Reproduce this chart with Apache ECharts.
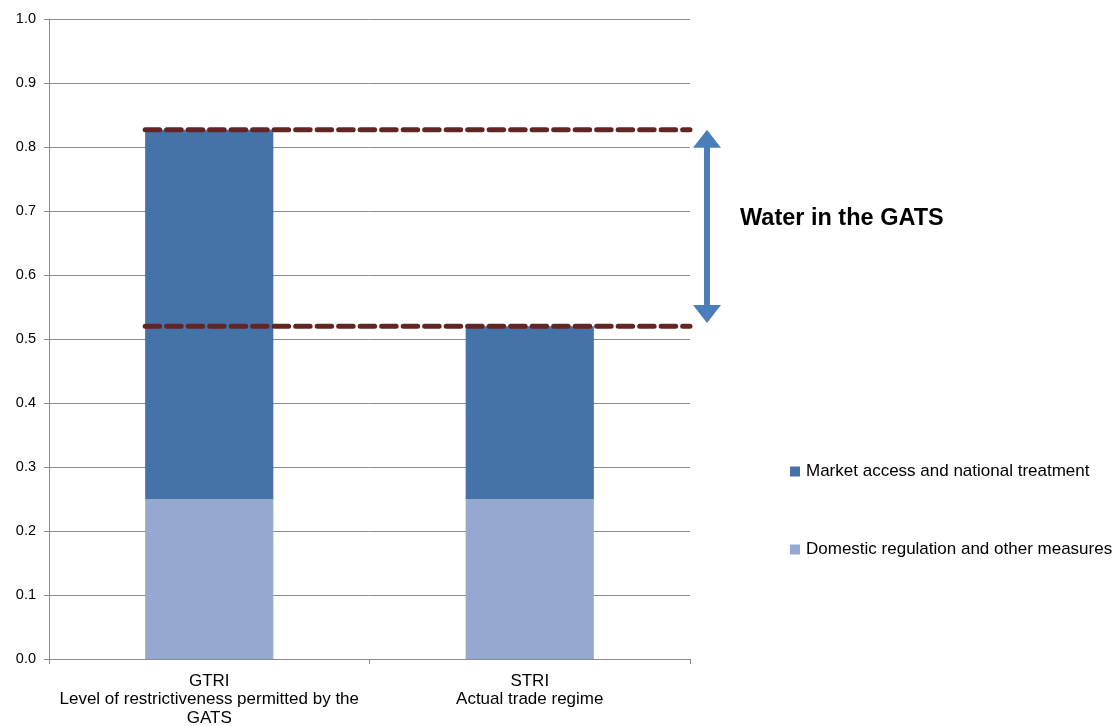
<!DOCTYPE html>
<html>
<head>
<meta charset="utf-8">
<script src="https://cdn.jsdelivr.net/npm/echarts@6/dist/echarts.min.js"></script>
<style>
  html, body { margin: 0; padding: 0; background: #fff; }
  #chart { width: 1114px; height: 726px; }
</style>
</head>
<body>
<div id="chart"></div>
<script>
// Restrictiveness indices: bound (GATS) vs. applied regime
const categories = [
  'GTRI\nLevel of restrictiveness permitted by the\nGATS',
  'STRI\nActual trade regime'
];
const seriesNames = ['Domestic regulation and other measures', 'Market access and national treatment'];
const domesticRegulation = [0.25, 0.25];
const marketAccess = [0.577, 0.27];
const yTicks = [0, 0.1, 0.2, 0.3, 0.4, 0.5, 0.6, 0.7, 0.8, 0.9, 1.0];
const annotationText = 'Water in the GATS';

// Stack totals give the heights of the two reference lines
const totals = domesticRegulation.map((d, i) => d + marketAccess[i]);
const gatsLevel = totals[0];
const appliedLevel = totals[1];

const FONT = 'Liberation Sans, Arial, sans-serif';
const W = 1114, H = 726;
const plotLeft = 49, plotRight = 690, plotTop = 19, plotBottom = 659;
const overlayRight = 740;   // wider overlay grid so the arrow can sit right of the plot

const chart = echarts.init(document.getElementById('chart'));

// Overlay x scale: one unit per category, same pixel scale as the bar grid
const unitPx = (plotRight - plotLeft) / categories.length;
const overlayMax = (overlayRight - plotLeft) / unitPx;
const barShare = 0.4;
const lineStart = 0.5 - barShare / 2;
const lineEnd = categories.length;
const arrowX = lineEnd + 17 / unitPx;
const headHalf = 9 / (plotBottom - plotTop); // half arrow-head height in value units

const dashStyle = { color: '#632523', width: 5, type: [14.5, 7], cap: 'round' };

const gridBox = { top: plotTop, bottom: H - plotBottom, containLabel: false, outerBoundsMode: 'none' };

chart.setOption({
  animation: false,
  grid: [
    Object.assign({ left: plotLeft, right: W - plotRight }, gridBox),
    Object.assign({ left: plotLeft, right: W - overlayRight }, gridBox)
  ],
  legend: {
    orient: 'vertical',
    left: 790,
    top: 463,
    padding: 0,
    itemGap: 61,
    itemWidth: 10,
    itemHeight: 10,
    icon: 'rect',
    data: [seriesNames[1], seriesNames[0]],
    textStyle: { fontFamily: FONT, fontSize: 17, color: '#000', padding: [0, 0, 0, 1] }
  },
  xAxis: [
    {
      type: 'category',
      gridIndex: 0,
      data: categories,
      axisLine: { lineStyle: { color: '#8c8c8c', width: 1 } },
      axisTick: { show: true, length: 5, lineStyle: { color: '#8c8c8c' } },
      axisLabel: { interval: 0, fontFamily: FONT, fontSize: 17, color: '#000', lineHeight: 18.5, margin: 13 }
    },
    { type: 'value', gridIndex: 1, min: 0, max: overlayMax, show: false }
  ],
  yAxis: [
    {
      type: 'value',
      gridIndex: 0,
      min: 0,
      max: 1,
      interval: 0.1,
      axisLine: { show: true, lineStyle: { color: '#8c8c8c', width: 1 } },
      axisTick: { show: true, length: 5, lineStyle: { color: '#8c8c8c' } },
      splitLine: { lineStyle: { color: '#8c8c8c', width: 1 } },
      axisLabel: {
        fontFamily: FONT, fontSize: 14.5, color: '#000', margin: 13,
        formatter: v => yTicks.includes(Math.round(v * 10) / 10) ? v.toFixed(1) : ''
      }
    },
    { type: 'value', gridIndex: 1, min: 0, max: 1, show: false }
  ],
  series: [
    {
      name: seriesNames[0], type: 'bar', stack: 'idx', barWidth: barShare * 100 + '%',
      itemStyle: { color: '#95a9d0' }, data: domesticRegulation
    },
    {
      name: seriesNames[1], type: 'bar', stack: 'idx',
      itemStyle: { color: '#4573a7' }, data: marketAccess
    },
    {
      name: 'gats-level', type: 'line', xAxisIndex: 1, yAxisIndex: 1, symbol: 'none', clip: false,
      lineStyle: dashStyle, data: [[lineStart, gatsLevel], [lineEnd, gatsLevel]], z: 5
    },
    {
      name: 'applied-level', type: 'line', xAxisIndex: 1, yAxisIndex: 1, symbol: 'none', clip: false,
      lineStyle: dashStyle, data: [[lineStart, appliedLevel], [lineEnd, appliedLevel]], z: 5,
      markLine: {
        silent: true,
        symbol: ['triangle', 'triangle'],
        symbolSize: [28, 18],
        label: { show: false },
        lineStyle: { color: '#4a7ebb', width: 6, type: 'solid', opacity: 1 },
        itemStyle: { color: '#4a7ebb' },
        data: [[
          { coord: [arrowX, gatsLevel - headHalf], itemStyle: { color: '#4a7ebb' } },
          { coord: [arrowX, appliedLevel + 0.005 + headHalf], itemStyle: { color: '#4a7ebb' } }
        ]]
      }
    }
  ],
  graphic: [{
    type: 'text', left: 740, top: 207,
    style: { text: annotationText, fontFamily: FONT, fontSize: 23.5, fontWeight: 'bold', fill: '#000' }
  }]
});
</script>
</body>
</html>
